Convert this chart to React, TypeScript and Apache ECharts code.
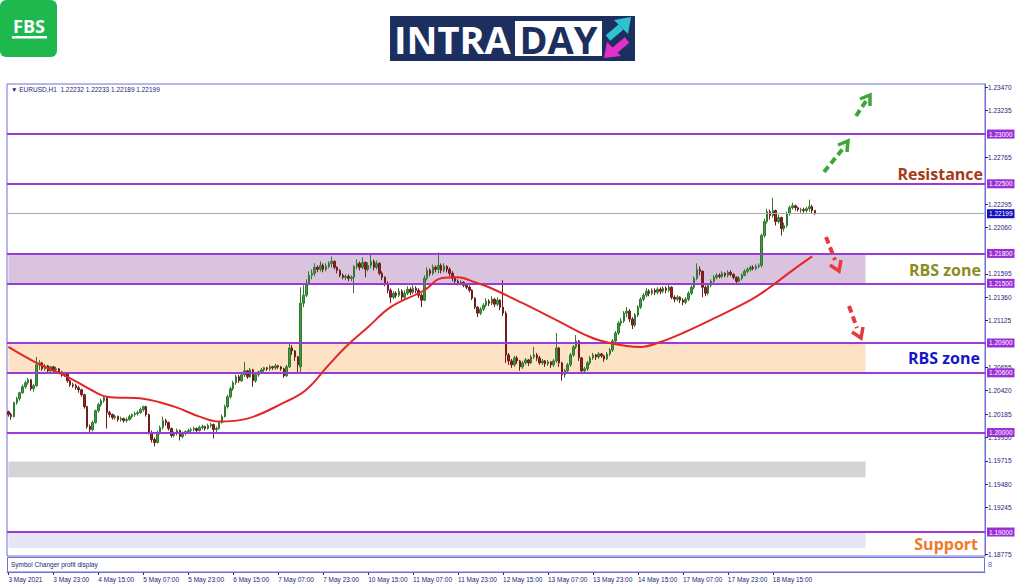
import React, { useEffect, useRef } from "react";
import * as echarts from "echarts";

// ---------- DATA ----------
// EURUSD H1 candles, values in pips above 1.0000 (price = 1 + v / 10000): [open, close, low, high]
const CANDLES_PIPS: number[][] = [
  [2021,2018,2016,2022],[2018,2016,2013,2020],[2016,2030,2015,2031],[2030,2034,2028,2036],[2034,2040,2032,2041],
  [2040,2046,2039,2048],[2046,2050,2044,2052],[2050,2053,2048,2055],[2053,2044,2042,2054],[2044,2047,2041,2049],
  [2047,2068,2046,2076],[2068,2070,2063,2073],[2070,2064,2062,2071],[2064,2067,2062,2069],[2067,2062,2060,2068],
  [2062,2066,2060,2067],[2066,2063,2061,2067],[2063,2064,2061,2066],[2064,2061,2059,2065],[2061,2058,2056,2062],
  [2058,2059,2056,2061],[2059,2052,2050,2060],[2052,2048,2046,2053],[2048,2047,2045,2050],[2047,2045,2043,2049],
  [2045,2043,2040,2047],[2043,2038,2036,2044],[2038,2026,2024,2039],[2026,2006,2004,2027],[2006,2003,1999,2008],
  [2003,2010,2001,2012],[2010,2022,2009,2023],[2022,2028,2020,2030],[2028,2032,2026,2034],[2032,2035,2030,2037],
  [2035,2020,2004,2036],[2020,2018,2015,2022],[2018,2015,2013,2019],[2015,2016,2013,2018],[2016,2013,2011,2017],
  [2013,2014,2011,2016],[2014,2012,2010,2015],[2012,2013,2010,2015],[2013,2016,2012,2018],[2016,2018,2014,2019],
  [2018,2019,2016,2021],[2019,2020,2017,2022],[2020,2023,2019,2025],[2023,2026,2021,2027],[2026,2018,2016,2027],
  [2018,2000,1998,2019],[2000,1993,1990,2002],[1993,1990,1986,1995],[1990,2000,1989,2002],[2000,2005,1998,2007],
  [2005,2012,2003,2016],[2012,2010,2007,2014],[2010,2004,2002,2011],[2004,1997,1995,2005],[1997,1999,1995,2001],
  [1999,2002,1997,2004],[2002,1996,1992,2003],[1996,1999,1994,2001],[1999,2001,1997,2002],[2001,2002,1999,2004],
  [2002,2003,2000,2005],[2003,2004,2001,2006],[2004,2002,2000,2005],[2002,2005,2001,2007],[2005,2006,2003,2008],
  [2006,2004,2002,2007],[2004,2007,2003,2009],[2007,2008,2005,2010],[2008,2003,1994,2009],[2003,2004,2000,2006],
  [2004,2010,2003,2011],[2010,2016,2009,2018],[2016,2026,2015,2028],[2026,2036,2024,2038],[2036,2044,2034,2046],
  [2044,2050,2042,2052],[2050,2056,2048,2058],[2056,2052,2050,2058],[2052,2058,2051,2060],[2058,2062,2056,2071],
  [2062,2056,2054,2063],[2056,2063,2055,2065],[2063,2052,2046,2064],[2052,2058,2050,2059],[2058,2061,2056,2062],
  [2061,2063,2059,2065],[2063,2065,2061,2066],[2065,2064,2062,2066],[2064,2066,2062,2068],[2066,2065,2063,2067],
  [2065,2067,2063,2069],[2067,2066,2064,2068],[2066,2064,2062,2067],[2064,2057,2055,2065],[2057,2066,2056,2068],
  [2066,2085,2065,2090],[2085,2082,2078,2088],[2082,2076,2072,2083],[2076,2068,2060,2077],[2066,2130,2060,2146],
  [2130,2138,2126,2148],[2138,2150,2136,2154],[2150,2158,2148,2162],[2158,2160,2154,2164],[2160,2166,2157,2170],
  [2166,2164,2161,2168],[2164,2168,2162,2172],[2168,2164,2161,2170],[2164,2167,2162,2170],[2167,2170,2165,2172],
  [2170,2172,2166,2177],[2172,2166,2164,2173],[2166,2163,2160,2167],[2163,2158,2156,2164],[2158,2156,2154,2160],
  [2156,2157,2153,2159],[2157,2155,2152,2159],[2155,2156,2152,2158],[2156,2167,2140,2168],[2167,2170,2164,2174],
  [2170,2166,2163,2172],[2166,2171,2164,2176],[2171,2164,2156,2172],[2164,2168,2162,2171],[2168,2172,2165,2179],
  [2172,2166,2163,2174],[2166,2170,2164,2173],[2170,2160,2158,2171],[2160,2156,2153,2162],[2156,2150,2147,2157],
  [2150,2143,2140,2152],[2143,2136,2130,2145],[2136,2140,2134,2142],[2140,2138,2135,2142],[2138,2142,2136,2145],
  [2142,2136,2133,2144],[2136,2140,2134,2143],[2140,2144,2138,2147],[2144,2141,2138,2146],[2141,2145,2139,2148],
  [2145,2143,2140,2147],[2143,2138,2135,2145],[2138,2133,2126,2140],[2133,2155,2132,2158],[2155,2163,2153,2166],
  [2163,2160,2157,2165],[2160,2166,2158,2169],[2166,2164,2161,2168],[2164,2168,2160,2181],[2168,2163,2160,2170],
  [2163,2167,2161,2170],[2167,2164,2161,2168],[2164,2160,2157,2166],[2160,2155,2152,2162],[2155,2152,2149,2157],
  [2152,2150,2148,2154],[2150,2151,2148,2153],[2151,2148,2146,2152],[2148,2146,2144,2150],[2146,2143,2141,2148],
  [2143,2135,2133,2144],[2135,2126,2124,2136],[2126,2120,2116,2127],[2120,2124,2118,2126],[2124,2128,2122,2130],
  [2128,2132,2126,2135],[2132,2130,2127,2134],[2130,2134,2128,2137],[2134,2129,2126,2135],[2129,2133,2127,2136],
  [2133,2126,2123,2134],[2126,2120,2117,2153],[2120,2078,2070,2122],[2078,2072,2068,2080],[2072,2068,2065,2074],
  [2068,2075,2066,2077],[2075,2072,2069,2077],[2072,2066,2062,2073],[2066,2070,2064,2072],[2070,2073,2068,2075],
  [2073,2070,2067,2074],[2070,2076,2069,2078],[2076,2078,2074,2086],[2078,2075,2072,2080],[2075,2070,2068,2077],
  [2070,2072,2068,2074],[2072,2069,2066,2073],[2069,2071,2067,2073],[2071,2068,2065,2072],[2068,2072,2066,2074],
  [2072,2085,2070,2100],[2085,2070,2066,2086],[2070,2058,2052,2071],[2058,2062,2055,2064],[2062,2068,2060,2070],
  [2068,2078,2066,2080],[2078,2086,2076,2088],[2086,2092,2084,2098],[2092,2075,2072,2093],[2075,2062,2060,2076],
  [2062,2064,2060,2066],[2064,2070,2062,2072],[2070,2075,2068,2077],[2075,2078,2073,2080],[2078,2076,2073,2079],
  [2076,2079,2074,2081],[2079,2077,2075,2080],[2077,2074,2071,2078],[2074,2079,2073,2081],[2079,2083,2077,2085],
  [2083,2092,2081,2094],[2092,2100,2090,2102],[2100,2110,2098,2112],[2110,2112,2107,2115],[2112,2120,2110,2122],
  [2120,2122,2116,2126],[2122,2114,2111,2124],[2114,2108,2104,2116],[2108,2118,2106,2120],[2118,2126,2116,2128],
  [2126,2134,2124,2136],[2134,2138,2132,2140],[2138,2142,2136,2145],[2142,2140,2137,2144],[2140,2143,2138,2145],
  [2143,2141,2138,2145],[2141,2144,2139,2146],[2144,2142,2139,2146],[2142,2145,2140,2147],[2145,2143,2140,2147],
  [2143,2146,2141,2150],[2146,2136,2134,2147],[2136,2134,2131,2138],[2134,2136,2132,2138],[2136,2133,2130,2137],
  [2133,2131,2128,2135],[2131,2134,2129,2136],[2134,2140,2132,2142],[2140,2146,2138,2148],[2146,2155,2144,2157],
  [2155,2164,2153,2170],[2164,2162,2158,2167],[2162,2146,2136,2163],[2146,2140,2137,2148],[2140,2148,2138,2150],
  [2148,2152,2146,2154],[2152,2156,2150,2158],[2156,2158,2154,2160],[2158,2157,2155,2160],[2157,2160,2155,2162],
  [2160,2158,2156,2161],[2158,2161,2156,2163],[2161,2159,2157,2163],[2159,2156,2154,2160],[2156,2152,2150,2157],
  [2152,2155,2151,2157],[2155,2158,2153,2160],[2158,2162,2157,2164],[2162,2164,2160,2166],[2164,2166,2162,2168],
  [2166,2165,2163,2168],[2165,2167,2163,2169],[2167,2168,2165,2170],[2168,2198,2166,2200],[2198,2212,2196,2215],
  [2212,2222,2210,2225],[2222,2218,2214,2224],[2218,2223,2216,2236],[2223,2212,2208,2224],[2212,2216,2210,2219],
  [2216,2205,2198,2217],[2205,2208,2202,2211],[2208,2220,2206,2222],[2220,2226,2218,2228],[2226,2228,2224,2231],
  [2228,2226,2223,2229],[2226,2224,2222,2227],[2224,2224,2221,2226],[2224,2223,2221,2226],[2223,2225,2221,2227],
  [2225,2227,2222,2234],[2227,2223,2220,2229],[2223.2,2219.9,2218.9,2223.3],
];

const MA_POINTS: number[][] = [
  [0,2086],[10,2070],[21,2056],[30,2042],[35,2036],[48,2034],[59,2026],[68,2016],[75,2011],[85,2014],
  [98,2030],[106,2043],[114,2068],[120,2086],[128,2106],[136,2126],[148,2143],[154,2155],[160,2156],
  [166,2151],[171,2146],[183,2130],[195,2113],[207,2096],[214,2090],[220,2087],[225,2086],[232,2091],
  [240,2100],[252,2116],[264,2133],[270,2144],[279,2163],[286,2177],
];

const TIME_LABELS = [
  "3 May 2021","3 May 23:00","4 May 15:00","5 May 07:00","5 May 23:00","6 May 15:00","7 May 07:00",
  "7 May 23:00","10 May 15:00","11 May 07:00","11 May 23:00","12 May 15:00","13 May 07:00","13 May 23:00",
  "14 May 15:00","17 May 07:00","17 May 23:00","18 May 15:00",
];
const BARS_PER_LABEL = 16;
const SLOT_COUNT = 348;

const Y_TICKS = [1.2347,1.23235,1.22765,1.22295,1.2206,1.21595,1.2136,1.21125,1.20655,1.2042,1.20185,1.1995,1.19715,1.1948,1.19245,1.18775];
const Y_MIN = 1.18759;
const Y_MAX = 1.23503;

const LEVELS = [1.23, 1.225, 1.218, 1.215, 1.209, 1.206, 1.2, 1.19];
const CURRENT_PRICE = 1.22199;

const ZONE_LOW = [1.215, 1.206, 1.1955, 1.1884];
const ZONE_HIGH = [1.218, 1.209, 1.1971, 1.19];
const ZONE_COLORS = ["#dac3de", "#fde2c6", "#d4d4d4", "#e5e5f7"];
const ZONE_END_BAR = 305;

const HEADER = "\u25BC EURUSD,H1  1.22232 1.22233 1.22189 1.22199";
const SUB_TITLE = "Symbol Changer profit display";

// ---------- STYLE ----------
const FRAME = "#6e6ed8";
const NAVY = "#23237a";
const LEVEL_COLOR = "#9b3bd6";
const SMALL_FONT = "Liberation Sans";

const toPrice = (v: number) => 1 + v / 10000;

function arrow(x1: number, y1: number, x2: number, y2: number, head: number[][], color: string) {
  return [
    { type: "line", z: 50, shape: { x1, y1, x2, y2 }, style: { stroke: color, lineWidth: 4, lineDash: [7, 4] } },
    { type: "polyline", z: 50, shape: { points: head }, style: { stroke: color, lineWidth: 3.5, fill: null } },
  ];
}

export default function App() {
  const ref = useRef<HTMLDivElement>(null);
  useEffect(() => {
    const chart = echarts.init(ref.current!, null, { renderer: "svg" });
    const categories = Array.from({ length: SLOT_COUNT }, (_, i) => String(i));
    const showLabel = (i: number) => i % BARS_PER_LABEL === 0 && i / BARS_PER_LABEL < TIME_LABELS.length;
    const candles = CANDLES_PIPS.map((r) => r.map(toPrice));
    const ma = MA_POINTS.map(([i, v]) => [i, toPrice(v)]);

    const zones = ZONE_LOW.map((lo, k) => [
      { yAxis: lo, xAxis: 0, itemStyle: { color: ZONE_COLORS[k] } },
      { yAxis: ZONE_HIGH[k], xAxis: ZONE_END_BAR },
    ]);

    const levelLines: any[] = LEVELS.map((v) => ({
      yAxis: v,
      lineStyle: { color: LEVEL_COLOR, width: 2, type: "solid" },
      label: { backgroundColor: "#9a2fd6" },
    }));
    levelLines.push({
      yAxis: CURRENT_PRICE,
      lineStyle: { color: "#a9a9a9", width: 1, type: "solid" },
      label: { backgroundColor: "#1212c0" },
    });

    const textItem = (text: string, x: number, y: number, color: string, size: number) => ({
      type: "text",
      z: 60,
      x,
      y,
      style: {
        text,
        fill: color,
        fontSize: size,
        fontWeight: "bold",
        fontFamily: "Open Sans",
        textAlign: "right",
        textVerticalAlign: "middle",
      },
    });

    const option: any = {
      animation: false,
      backgroundColor: "#ffffff",
      grid: {
        left: 7,
        right: 39,
        top: 84,
        height: 472,
        show: true,
        borderColor: FRAME,
        borderWidth: 1,
        backgroundColor: "#ffffff",
      },
      xAxis: {
        type: "category",
        data: categories,
        boundaryGap: true,
        offset: 16,
        axisLine: { show: true, lineStyle: { color: FRAME, width: 1 } },
        axisTick: { show: true, interval: showLabel, alignWithLabel: true, length: 3, lineStyle: { color: NAVY } },
        axisLabel: {
          interval: showLabel,
          formatter: (_v: string, i: number) => (showLabel(i) ? TIME_LABELS[i / BARS_PER_LABEL] : ""),
          align: "left",
          fontSize: 6.5,
          fontFamily: SMALL_FONT,
          color: NAVY,
          margin: 4,
        },
        splitLine: { show: false },
      },
      yAxis: {
        type: "value",
        position: "right",
        min: Y_MIN,
        max: Y_MAX,
        axisLine: { show: true, lineStyle: { color: FRAME, width: 1 } },
        axisTick: { show: true, length: 3, customValues: Y_TICKS, lineStyle: { color: NAVY } },
        axisLabel: {
          customValues: Y_TICKS,
          formatter: (v: number) => v.toFixed(5),
          fontSize: 6.5,
          fontFamily: SMALL_FONT,
          color: NAVY,
          margin: 3,
        },
        splitLine: { show: false },
      },
      series: [
        {
          type: "candlestick",
          data: candles,
          barWidth: 2,
          itemStyle: {
            color: "#3d9a3d",
            color0: "#8a2323",
            borderColor: "#2f7a2f",
            borderColor0: "#6e1c1c",
            borderWidth: 1,
          },
          markArea: { silent: true, data: zones, z: 1 },
          markLine: {
            silent: true,
            precision: 5,
            symbol: ["none", "none"],
            data: levelLines,
            label: {
              show: true,
              position: "end",
              distance: 2,
              formatter: (p: any) => Number(p.value).toFixed(5),
              color: "#ffffff",
              fontSize: 6.5,
              fontFamily: SMALL_FONT,
              padding: [1, 2, 1, 2],
            },
          },
        },
        {
          type: "line",
          data: ma,
          smooth: 0.4,
          symbol: "none",
          lineStyle: { color: "#e32626", width: 2 },
          z: 5,
        },
      ],
      graphic: {
        elements: [
          // FBS logo
          { type: "rect", shape: { x: 0, y: 0, width: 57, height: 57, r: 6 }, style: { fill: "#1fb84f" } },
          {
            type: "text", x: 29, y: 26,
            style: { text: "FBS", fill: "#ffffff", fontSize: 18, fontWeight: "bold", fontFamily: "Open Sans", textAlign: "center", textVerticalAlign: "middle" },
          },
          { type: "rect", shape: { x: 12, y: 36, width: 35, height: 2.5 }, style: { fill: "#ffffff" } },
          // INTRADAY logo
          { type: "rect", shape: { x: 390, y: 16, width: 245, height: 45 }, style: { fill: "#1c2f5f" } },
          {
            type: "text", x: 394, y: 39,
            style: { text: "INTRA", fill: "#ffffff", fontSize: 38, fontWeight: "bold", fontFamily: "Open Sans", textAlign: "left", textVerticalAlign: "middle" },
          },
          { type: "rect", shape: { x: 515, y: 21, width: 87, height: 35 }, style: { fill: "#ffffff" } },
          {
            type: "text", x: 558.5, y: 39,
            style: { text: "DAY", fill: "#1c2f5f", fontSize: 38, fontWeight: "bold", fontFamily: "Open Sans", textAlign: "center", textVerticalAlign: "middle" },
          },
          { type: "line", shape: { x1: 608, y1: 38, x2: 621, y2: 27 }, style: { stroke: "#2fc3d2", lineWidth: 7 } },
          { type: "polygon", shape: { points: [[631, 17], [614, 20], [628, 34]] }, style: { fill: "#2fc3d2" } },
          { type: "line", shape: { x1: 627, y1: 40, x2: 614, y2: 51 }, style: { stroke: "#e52fcb", lineWidth: 7 } },
          { type: "polygon", shape: { points: [[604, 58], [607, 42], [621, 56]] }, style: { fill: "#e52fcb" } },
          // header inside chart
          {
            type: "text", x: 11, y: 89, z: 60,
            style: { text: HEADER, fill: NAVY, fontSize: 6.5, fontFamily: SMALL_FONT, textAlign: "left", textVerticalAlign: "middle" },
          },
          // sub window
          { type: "rect", z: 40, shape: { x: 7.5, y: 557.5, width: 977, height: 14.5 }, style: { fill: "#ffffff", stroke: FRAME, lineWidth: 1 } },
          {
            type: "text", x: 11, y: 564.5, z: 60,
            style: { text: SUB_TITLE, fill: NAVY, fontSize: 6.5, fontFamily: SMALL_FONT, textAlign: "left", textVerticalAlign: "middle" },
          },
          {
            type: "text", x: 990, y: 564, z: 60,
            style: { text: "8", fill: FRAME, fontSize: 8, fontFamily: SMALL_FONT, textAlign: "center", textVerticalAlign: "middle" },
          },
          // annotations
          textItem("Resistance", 983, 174, "#a63a16", 16),
          textItem("RBS zone", 981, 270, "#8c8c1e", 16),
          textItem("RBS zone", 980, 358, "#1616c8", 16),
          textItem("Support", 978, 544, "#f07a2a", 16),
          ...arrow(824, 172, 845, 146, [[838, 145], [848, 141], [847, 152]], "#3aa83a"),
          ...arrow(856, 116, 866, 101, [[860, 99], [870, 95], [870, 106]], "#3aa83a"),
          ...arrow(826, 237, 835, 260, [[830, 265], [839, 271], [841, 260]], "#e63b3b"),
          ...arrow(849, 306, 857, 328, [[852, 332], [861, 338], [863, 327]], "#e63b3b"),
        ],
      },
    };
    chart.setOption(option);
    return () => chart.dispose();
  }, []);
  return (
    <div
      ref={ref}
      style={{ position: "absolute", left: 0, top: 0, width: 1024, height: 587, background: "#ffffff" }}
    />
  );
}
